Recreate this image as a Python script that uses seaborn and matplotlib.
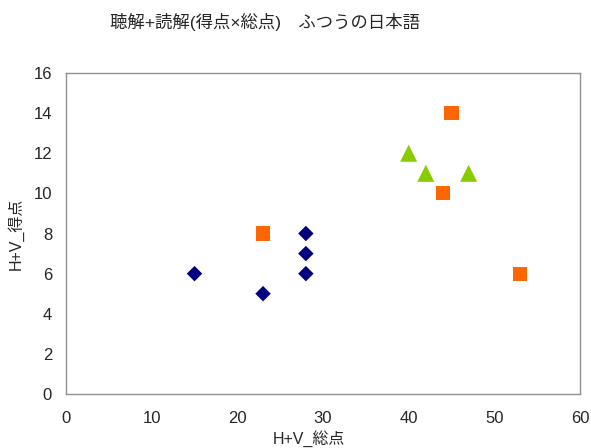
import pandas as pd
import matplotlib
matplotlib.use("Agg")
import matplotlib.pyplot as plt
import seaborn as sns

# -----------------------------
# DATA
# -----------------------------
TITLE = "聴解+読解(得点×総点)　ふつうの日本語"
X_LABEL = "H+V_総点"
Y_LABEL = "H+V_得点"

diamond_x = [15, 23, 28, 28, 28]
diamond_y = [6, 5, 8, 7, 6]

square_x = [23, 45, 44, 53]
square_y = [8, 14, 10, 6]

triangle_x = [40, 42, 47]
triangle_y = [12, 11, 11]

x_ticks = [0, 10, 20, 30, 40, 50, 60]
y_ticks = [0, 2, 4, 6, 8, 10, 12, 14, 16]

# -----------------------------
# STYLE
# -----------------------------
sns.set_theme(style="white")
plt.rcParams["font.family"] = ["Liberation Sans", "Noto Sans CJK JP", "DejaVu Sans"]

df = pd.DataFrame({
    "x": diamond_x + square_x + triangle_x,
    "y": diamond_y + square_y + triangle_y,
    "group": ["a"] * len(diamond_x) + ["b"] * len(square_x) + ["c"] * len(triangle_x),
})

palette = {"a": "#000080", "b": "#FF6600", "c": "#88CC00"}
markers = {"a": "D", "b": "s", "c": "^"}
sizes = {"a": 62, "b": 105, "c": 150}

fig = plt.figure(figsize=(5.91, 4.48), dpi=100)
ax = fig.add_axes([66 / 591, 1 - 394 / 448, 514 / 591, 321 / 448])

for g, sub in df.groupby("group"):
    sns.scatterplot(
        data=sub, x="x", y="y",
        color=palette[g], marker=markers[g], s=sizes[g],
        edgecolor="none", linewidth=0, ax=ax, legend=False, zorder=3
    )

ax.set_xlim(0, 60)
ax.set_ylim(0, 16)
ax.set_xticks(x_ticks)
ax.set_yticks(y_ticks)
ax.tick_params(direction="in", length=4, color="#a0a0a0", labelsize=12)
ax.tick_params(axis="x", pad=12)
ax.tick_params(axis="y", pad=10)

for sp in ax.spines.values():
    sp.set_color("#909090")
    sp.set_linewidth(1.0)

ax.set_xlabel(X_LABEL, fontsize=11.5)
ax.set_ylabel(Y_LABEL, fontsize=11.5)
ax.xaxis.set_label_coords((309 - 66) / 514, -0.112)
ax.yaxis.set_label_coords(-0.082, 0.5)

fig.text(265 / 591, 1 - 22 / 448, TITLE, ha="center", va="center", fontsize=12.5)

fig.savefig("out.png", dpi=100)
